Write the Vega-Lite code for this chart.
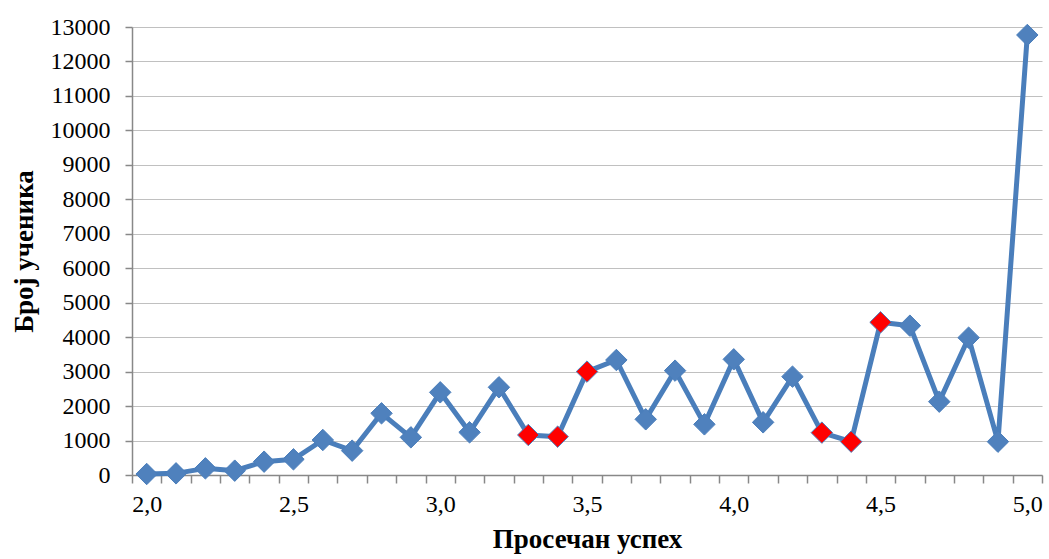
{
  "$schema": "https://vega.github.io/schema/vega-lite/v6.json",
  "width": 910,
  "height": 448,
  "autosize": {"type": "none"},
  "padding": {"left": 132, "top": 27, "right": 7, "bottom": 84},
  "background": "white",
  "config": {
    "view": {"stroke": null},
    "font": "Liberation Serif",
    "axis": {"labelFont": "Liberation Serif", "titleFont": "Liberation Serif", "labelColor": "#000000", "titleColor": "#000000"}
  },
  "data": {
    "values": [
      {"avg": 2.0, "count": 29, "group": "normal"},
      {"avg": 2.1, "count": 48, "group": "normal"},
      {"avg": 2.2, "count": 193, "group": "normal"},
      {"avg": 2.3, "count": 126, "group": "normal"},
      {"avg": 2.4, "count": 387, "group": "normal"},
      {"avg": 2.5, "count": 455, "group": "normal"},
      {"avg": 2.6, "count": 1016, "group": "normal"},
      {"avg": 2.7, "count": 706, "group": "normal"},
      {"avg": 2.8, "count": 1790, "group": "normal"},
      {"avg": 2.9, "count": 1093, "group": "normal"},
      {"avg": 3.0, "count": 2399, "group": "normal"},
      {"avg": 3.1, "count": 1238, "group": "normal"},
      {"avg": 3.2, "count": 2545, "group": "normal"},
      {"avg": 3.3, "count": 1161, "group": "highlight"},
      {"avg": 3.4, "count": 1112, "group": "highlight"},
      {"avg": 3.5, "count": 3000, "group": "highlight"},
      {"avg": 3.6, "count": 3337, "group": "normal"},
      {"avg": 3.7, "count": 1616, "group": "normal"},
      {"avg": 3.8, "count": 3028, "group": "normal"},
      {"avg": 3.9, "count": 1470, "group": "normal"},
      {"avg": 4.0, "count": 3356, "group": "normal"},
      {"avg": 4.1, "count": 1528, "group": "normal"},
      {"avg": 4.2, "count": 2854, "group": "normal"},
      {"avg": 4.3, "count": 1229, "group": "highlight"},
      {"avg": 4.4, "count": 967, "group": "highlight"},
      {"avg": 4.5, "count": 4430, "group": "highlight"},
      {"avg": 4.6, "count": 4333, "group": "normal"},
      {"avg": 4.7, "count": 2128, "group": "normal"},
      {"avg": 4.8, "count": 3985, "group": "normal"},
      {"avg": 4.9, "count": 967, "group": "normal"},
      {"avg": 5.0, "count": 12768, "group": "normal"}
    ]
  },
  "encoding": {
    "x": {
      "field": "avg",
      "type": "quantitative",
      "scale": {"domain": [1.95, 5.05], "nice": false, "zero": false},
      "axis": {
        "title": "Просечан успех",
        "titleFontSize": 27,
        "titleFontWeight": "bold",
        "titlePadding": 10,
        "values": [1.95, 2.05, 2.15, 2.25, 2.35, 2.45, 2.55, 2.65, 2.75, 2.85, 2.95, 3.05, 3.15, 3.25, 3.35, 3.45, 3.55, 3.65, 3.75, 3.85, 3.95, 4.05, 4.15, 4.25, 4.35, 4.45, 4.55, 4.65, 4.75, 4.85, 4.95, 5.05],
        "labelExpr": "(round((datum.value + 0.05) * 10) % 5 == 0) ? replace(format(datum.value + 0.05, '.1f'), '.', ',') : ''",
        "labelOffset": 14.68,
        "labelFontSize": 24,
        "labelPadding": 9,
        "labelOverlap": false,
        "labelFlush": false,
        "grid": false,
        "domainColor": "#888888",
        "domainWidth": 1.5,
        "tickColor": "#888888",
        "tickWidth": 1.5,
        "tickSize": 8
      }
    },
    "y": {
      "field": "count",
      "type": "quantitative",
      "scale": {"domain": [0, 13000], "nice": false},
      "axis": {
        "title": "Број ученика",
        "titleFontSize": 27,
        "titleFontWeight": "bold",
        "titlePadding": 12,
        "values": [0, 1000, 2000, 3000, 4000, 5000, 6000, 7000, 8000, 9000, 10000, 11000, 12000, 13000],
        "format": "d",
        "labelFontSize": 24,
        "labelPadding": 15,
        "labelOverlap": false,
        "labelFlush": false,
        "grid": true,
        "gridColor": "#C0C0C0",
        "gridWidth": 1.2,
        "domainColor": "#888888",
        "domainWidth": 1.5,
        "tickColor": "#888888",
        "tickWidth": 1.5,
        "tickSize": 7
      }
    }
  },
  "layer": [
    {
      "mark": {"type": "line", "color": "#4A7EBB", "strokeWidth": 5, "strokeJoin": "round"}
    },
    {
      "mark": {"type": "point", "shape": "diamond", "filled": true, "size": 460, "opacity": 1, "stroke": "#4A7EBB", "strokeWidth": 1},
      "encoding": {
        "color": {
          "field": "group",
          "type": "nominal",
          "scale": {"domain": ["normal", "highlight"], "range": ["#4F81BD", "#FF0000"]},
          "legend": null
        }
      }
    }
  ]
}
